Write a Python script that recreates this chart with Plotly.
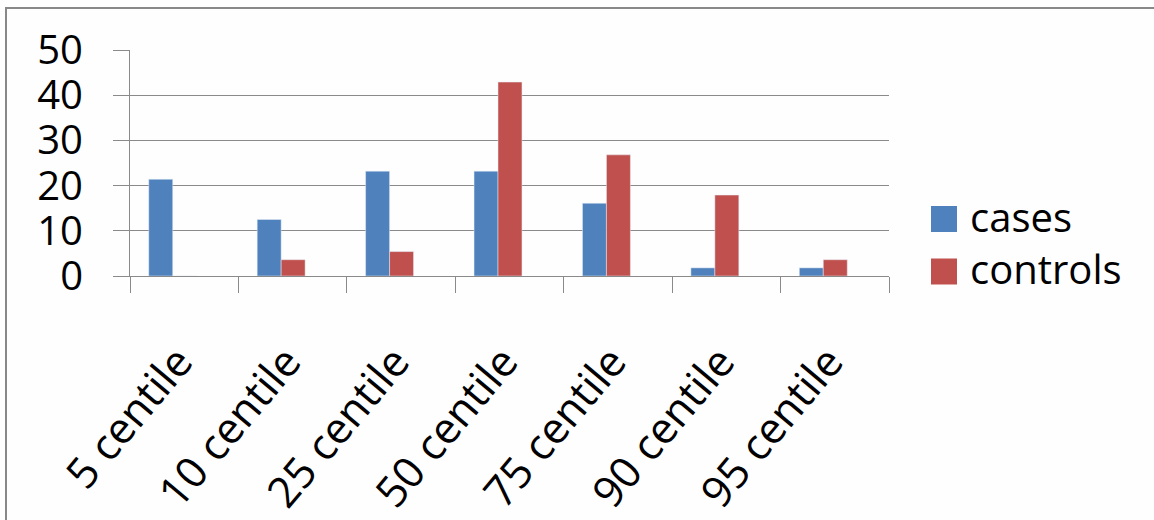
import plotly.graph_objects as go

categories = ["5 centile", "10 centile", "25 centile", "50 centile",
              "75 centile", "90 centile", "95 centile"]
cases = [21.4, 12.5, 23.2, 23.2, 16.1, 1.8, 1.8]
controls = [0, 3.6, 5.4, 42.9, 26.8, 17.9, 3.6]
y_ticks = [0, 10, 20, 30, 40, 50]

BLUE = "#4F81BD"
RED = "#C0504D"
GRID = "#8a8a8a"
FONT = "Open Sans"

W, H = 1154, 520
L, R, T, B = 130, 889, 50, 276

fig = go.Figure()
fig.add_trace(go.Bar(x=categories, y=cases, name="cases", marker_color=BLUE,
                     width=0.221, offset=-0.327, showlegend=False))
fig.add_trace(go.Bar(x=categories, y=controls, name="controls", marker_color=RED,
                     width=0.221, offset=-0.106, showlegend=False))

def px_x(px):
    return (px - L) / (R - L)

def px_y(py):
    return (B - py) / (B - T)

shapes = []
annotations = []
# manual legend
for i, (name, col) in enumerate([("cases", BLUE), ("controls", RED)]):
    y0 = 206 + i * 52.5
    shapes.append(dict(type="rect", xref="paper", yref="paper",
                       x0=px_x(931), x1=px_x(957), y0=px_y(y0 + 26), y1=px_y(y0),
                       fillcolor=col, line=dict(width=0)))
    annotations.append(dict(xref="paper", yref="paper", x=px_x(968), y=px_y(y0 + 10),
                            text=name, showarrow=False, xanchor="left", yanchor="middle",
                            font=dict(family=FONT, size=40, color="black")))

# outer frame (top and left edges)
shapes.append(dict(type="line", xref="paper", yref="paper",
                   x0=px_x(5), x1=px_x(1154), y0=px_y(8), y1=px_y(8),
                   line=dict(color="#888888", width=2)))
shapes.append(dict(type="line", xref="paper", yref="paper",
                   x0=px_x(6), x1=px_x(6), y0=px_y(8), y1=px_y(520),
                   line=dict(color="#888888", width=2)))

fig.update_layout(
    width=W, height=H,
    margin=dict(l=L, r=W - R, t=T, b=H - B, pad=0),
    paper_bgcolor="#fefefe", plot_bgcolor="#fefefe",
    barmode="overlay",
    showlegend=False,
    shapes=shapes,
    annotations=annotations,
    font=dict(family=FONT, size=40, color="black"),
    xaxis=dict(
        type="category", categoryorder="array", categoryarray=categories,
        tickangle=-50, tickson="boundaries", ticks="outside", ticklen=16,
        tickcolor=GRID, tickwidth=1, showline=True, linecolor=GRID, linewidth=1,
        showgrid=False, tickfont=dict(family=FONT, size=43, color="black"),
        range=[-0.5, 6.5], ticklabelstandoff=42, ticklabelshift=-6,
        automargin=False,
    ),
    yaxis=dict(
        range=[0, 50], tickvals=y_ticks, ticks="outside", ticklen=16,
        tickcolor=GRID, tickwidth=1, showline=True, linecolor=GRID, linewidth=1,
        showgrid=True, gridcolor=GRID, gridwidth=1, zeroline=False,
        tickfont=dict(family=FONT, size=40, color="black"),
        ticklabelstandoff=22, automargin=False,
    ),
)

fig.write_html("out.html", config={"displayModeBar": False},
               post_script="document.body.style.margin='0';document.body.style.overflow='hidden';")
